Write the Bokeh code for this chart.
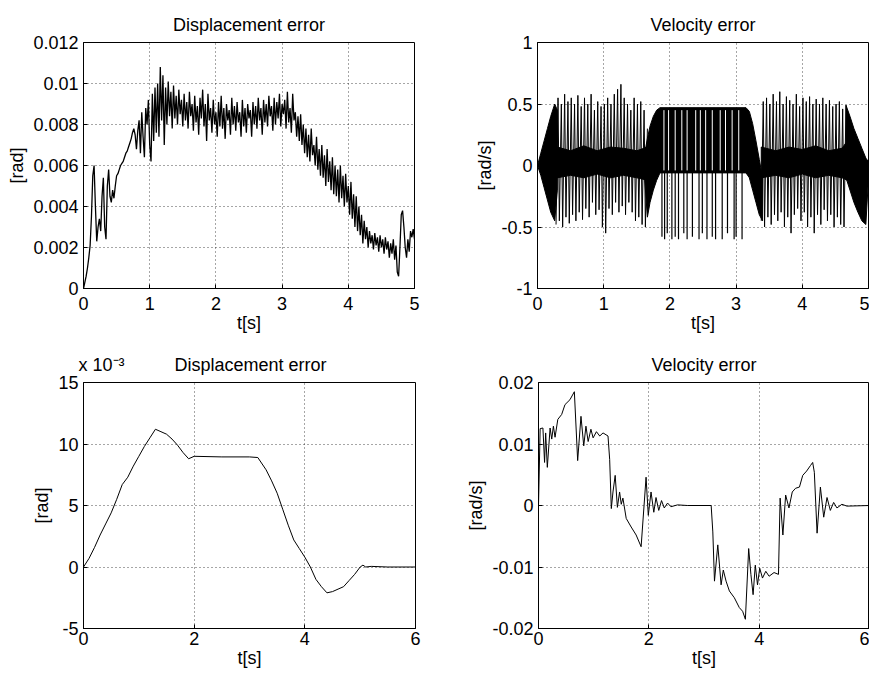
import numpy as np
from bokeh.plotting import figure
from bokeh.layouts import column, row
from bokeh.models import Range1d, FixedTicker
from bokeh.embed import file_html
from bokeh.resources import INLINE

FONT = "Liberation Sans"
FS = "18px"

# ---------------- data ----------------
# Top-left: displacement error [rad], sampled every 0.02 s from 0 to 5 s (values x1e-4)
disp1_dt = 0.02
disp1_e4 = [
    0, 3, 6, 10, 15, 21, 35, 55, 60, 40,
    23, 30, 34, 28, 45, 54, 30, 24, 50, 58,
    45, 42, 48, 44, 50, 55, 56, 58, 60, 61,
    62, 64, 66, 67, 69, 71, 73, 76, 78, 75,
    68, 77, 82, 66, 86, 74, 64, 88, 80, 92,
    70, 62, 95, 72, 98, 76, 100, 74, 108, 82,
    104, 70, 98, 80, 101, 84, 96, 78, 99, 83,
    94, 80, 97, 85, 92, 79, 95, 82, 91, 78,
    96, 84, 90, 77, 94, 81, 89, 75, 93, 83,
    97, 79, 90, 72, 95, 82, 88, 76, 92, 80,
    86, 74, 91, 79, 94, 78, 88, 73, 90, 82,
    87, 75, 93, 80, 89, 77, 91, 81, 86, 74,
    92, 79, 88, 76, 90, 83, 87, 74, 91, 80,
    89, 78, 93, 82, 88, 75, 92, 81, 90, 79,
    94, 84, 89, 77, 93, 80, 91, 83, 95, 79,
    90, 85, 92, 78, 96, 81, 88, 76, 95, 82,
    86, 74, 84, 72, 85, 70, 80, 66, 78, 64,
    75, 62, 78, 65, 70, 60, 74, 58, 68, 55,
    70, 54, 65, 50, 68, 52, 62, 48, 64, 46,
    60, 45, 58, 42, 60, 44, 55, 40, 56, 42,
    50, 36, 52, 34, 46, 30, 45, 28, 40, 26,
    36, 22, 33, 24, 30, 20, 28, 22, 26, 19,
    27, 21, 25, 18, 26, 20, 24, 17, 25, 19,
    23, 15, 22, 17, 24, 14, 21, 8, 6, 20,
    36, 38, 30, 20, 15, 24, 18, 28, 25, 29,
    24,
]

# Top-right: velocity error [rad/s]; dense chattering regions (upper/lower envelopes)
vel1_band_t = [
    [0.0, 0.05, 0.10, 0.15, 0.20, 0.26, 0.30],
    [0.30, 0.50, 0.70, 0.90, 1.10, 1.30, 1.50, 1.66],
    [1.62, 1.66, 1.70, 1.75, 1.80, 1.85, 3.15, 3.20, 3.25, 3.30, 3.35, 3.40],
    [3.38, 3.60, 3.80, 4.00, 4.20, 4.40, 4.60, 4.68],
    [4.66, 4.72, 4.78, 4.84, 4.90, 4.96, 5.00],
]
vel1_band_hi = [
    [0.0, 0.10, 0.20, 0.30, 0.40, 0.50, 0.45],
    [0.15, 0.12, 0.16, 0.12, 0.15, 0.14, 0.12, 0.15],
    [0.10, 0.22, 0.32, 0.40, 0.45, 0.47, 0.47, 0.44, 0.34, 0.20, 0.05, -0.10],
    [0.15, 0.12, 0.15, 0.13, 0.16, 0.12, 0.14, 0.20],
    [0.49, 0.40, 0.30, 0.22, 0.14, 0.06, 0.03],
]
vel1_band_lo = [
    [0.0, -0.08, -0.18, -0.28, -0.38, -0.45, -0.20],
    [-0.10, -0.08, -0.10, -0.07, -0.10, -0.08, -0.10, -0.12],
    [-0.12, -0.42, -0.30, -0.20, -0.12, -0.06, -0.06, -0.10, -0.20, -0.30, -0.40, -0.45],
    [-0.10, -0.08, -0.10, -0.07, -0.10, -0.08, -0.10, -0.12],
    [-0.10, -0.20, -0.30, -0.38, -0.45, -0.48, -0.10],
]
# spike trains (alternating tips)
vel1_a_t = [0.28, 0.31, 0.33, 0.36, 0.38, 0.41, 0.43, 0.46, 0.48, 0.51, 0.53, 0.56, 0.58, 0.61,
            0.63, 0.66, 0.68, 0.71, 0.73, 0.76, 0.78, 0.81, 0.83, 0.86, 0.88, 0.91, 0.93, 0.96,
            0.98, 1.01, 1.03, 1.06, 1.08, 1.11, 1.13, 1.16, 1.18, 1.21, 1.23, 1.26, 1.28, 1.31,
            1.33, 1.36, 1.38, 1.41, 1.43, 1.46, 1.48, 1.51, 1.53, 1.56, 1.58, 1.61, 1.63, 1.66]
vel1_a_v = [-0.48, 0.55, -0.45, 0.50, -0.50, 0.58, -0.42, 0.52, -0.47, 0.55, -0.40, 0.50, -0.45, 0.57,
            -0.38, 0.48, -0.44, 0.55, -0.35, 0.50, -0.42, 0.58, -0.30, 0.45, -0.40, 0.52, -0.36, 0.48,
            -0.50, 0.50, -0.55, 0.55, -0.35, 0.50, -0.40, 0.58, -0.30, 0.62, -0.38, 0.66, -0.33, 0.55,
            -0.40, 0.50, -0.30, 0.45, -0.38, 0.55, -0.45, 0.50, -0.42, 0.52, -0.48, 0.45, -0.50, 0.30]
vel1_c_t = [3.38, 3.41, 3.43, 3.46, 3.48, 3.51, 3.53, 3.56, 3.58, 3.61, 3.63, 3.66, 3.68, 3.71,
            3.73, 3.76, 3.78, 3.81, 3.83, 3.86, 3.88, 3.91, 3.93, 3.96, 3.98, 4.01, 4.03, 4.06,
            4.08, 4.11, 4.13, 4.16, 4.18, 4.21, 4.23, 4.26, 4.28, 4.31, 4.33, 4.36, 4.38, 4.41,
            4.43, 4.46, 4.48, 4.51, 4.53, 4.56, 4.58, 4.61, 4.63, 4.66]
vel1_c_v = [-0.45, 0.52, -0.50, 0.55, -0.42, 0.50, -0.48, 0.58, -0.40, 0.52, -0.45, 0.60, -0.38, 0.50,
            -0.50, 0.56, -0.42, 0.53, -0.55, 0.50, -0.40, 0.58, -0.35, 0.48, -0.45, 0.55, -0.38, 0.52,
            -0.50, 0.56, -0.42, 0.50, -0.55, 0.54, -0.40, 0.50, -0.48, 0.55, -0.36, 0.50, -0.45, 0.53,
            -0.40, 0.48, -0.50, 0.50, -0.42, 0.52, -0.48, 0.46, -0.50, 0.49]
vel1_plateau_base = -0.06
vel1_plateau_top = 0.47
vel1_plateau_spike_t = [1.88, 1.92, 1.96, 2.03, 2.08, 2.13, 2.21, 2.26, 2.34, 2.44,
                        2.49, 2.56, 2.64, 2.69, 2.79, 2.87, 2.97, 3.00, 3.09]
vel1_plateau_spike_lo = [-0.58, -0.60, -0.55, -0.60, -0.58, -0.60, -0.55, -0.60, -0.58, -0.60,
                         -0.55, -0.60, -0.58, -0.60, -0.60, -0.55, -0.60, -0.58, -0.60]
vel1_plateau_gap_t = [1.91, 1.98, 2.08, 2.18, 2.26, 2.39, 2.46, 2.54, 2.64, 2.76, 2.84, 2.94, 3.04]

# Bottom-left: displacement error (x1e-3 rad)
disp2_t = [0, 0.1, 0.2, 0.3, 0.4, 0.5, 0.6, 0.7, 0.8, 0.9, 1.0, 1.1, 1.2, 1.3, 1.4, 1.5, 1.6,
           1.7, 1.8, 1.9, 2.0, 2.5, 3.0, 3.15, 3.3, 3.4, 3.5, 3.6, 3.7, 3.8, 3.9, 4.0, 4.1,
           4.2, 4.3, 4.4, 4.5, 4.6, 4.7, 4.8, 4.9, 5.0, 5.05, 5.1, 5.2, 5.5, 6.0]
disp2_e3 = [0, 0.7, 1.6, 2.6, 3.5, 4.4, 5.5, 6.7, 7.3, 8.2, 9.0, 9.8, 10.5, 11.2, 11.0, 10.8, 10.4,
            9.9, 9.3, 8.8, 9.0, 8.95, 8.95, 8.9, 7.9, 7.0, 6.0, 4.7, 3.4, 2.2, 1.5, 0.8, 0.0,
            -1.0, -1.6, -2.1, -2.0, -1.8, -1.6, -1.1, -0.6, 0.0, 0.15, 0.0, 0.05, 0.0, 0.0]

# Bottom-right: velocity error [rad/s]
vel2_t = [0, 0.03, 0.08, 0.11, 0.13, 0.16, 0.21, 0.24, 0.27, 0.30, 0.35, 0.42, 0.48, 0.57, 0.65,
          0.71, 0.77, 0.82, 0.86, 0.90, 0.95, 0.99, 1.05, 1.11, 1.17, 1.26, 1.29, 1.32, 1.35,
          1.39, 1.43, 1.47, 1.50, 1.53, 1.59, 1.68, 1.77, 1.86, 1.95, 1.99, 2.04, 2.09, 2.13,
          2.18, 2.23, 2.28, 2.34, 2.40, 2.52, 2.70, 3.13, 3.16, 3.19, 3.25, 3.31, 3.35, 3.40,
          3.46, 3.55, 3.64, 3.70, 3.75, 3.81, 3.85, 3.89, 3.93, 3.97, 4.01, 4.06, 4.12, 4.18,
          4.27, 4.35, 4.38, 4.43, 4.48, 4.54, 4.60, 4.66, 4.73, 4.79, 4.86, 4.93, 4.97, 5.00,
          5.05, 5.11, 5.17, 5.23, 5.29, 5.35, 5.41, 5.50, 5.59, 6.0]
vel2_v = [0.0, 0.0125, 0.0126, 0.0070, 0.0118, 0.0062, 0.0126, 0.0108, 0.0129, 0.0111, 0.0140,
          0.0148, 0.0164, 0.0172, 0.0185, 0.0073, 0.0145, 0.0097, 0.0129, 0.0104, 0.0124, 0.0110,
          0.0120, 0.0113, 0.0118, 0.0113, 0.0075, -0.0005, 0.0022, 0.0049, -0.0003, 0.0022,
          0.0002, 0.0012, -0.0021, -0.0035, -0.0048, -0.0067, 0.0046, -0.0016, 0.0022, -0.0011,
          0.0013, -0.0008, 0.0008, -0.0004, 0.0004, -0.0002, 0.0001, 0.0, 0.0, -0.0043, -0.0123,
          -0.0064, -0.0129, -0.0105, -0.0123, -0.0139, -0.0150, -0.0166, -0.0172, -0.0185,
          -0.0070, -0.0112, -0.0145, -0.0097, -0.0129, -0.0102, -0.0118, -0.0107, -0.0115,
          -0.0109, -0.0112, 0.0012, -0.0048, 0.0017, -0.0004, 0.0022, 0.0028, 0.0030, 0.0049,
          0.0056, 0.0065, 0.0070, 0.0054, -0.0045, 0.0030, -0.0019, 0.0013, -0.0008, 0.0005,
          -0.0004, 0.0002, -0.0001, 0.0]

# ticks and texts
tl_xticks = [0, 1, 2, 3, 4, 5]
tl_yticks = [0, 0.002, 0.004, 0.006, 0.008, 0.01, 0.012]
tl_ylabels = ["0", "0.002", "0.004", "0.006", "0.008", "0.01", "0.012"]
tr_yticks = [-1, -0.5, 0, 0.5, 1]
tr_ylabels = ["-1", "-0.5", "0", "0.5", "1"]
bl_xticks = [0, 2, 4, 6]
bl_yticks = [-5, 0, 5, 10, 15]
bl_ylabels = ["-5", "0", "5", "10", "15"]
br_yticks = [-0.02, -0.01, 0, 0.01, 0.02]
br_ylabels = ["-0.02", "-0.01", "0", "0.01", "0.02"]
bl_scale_text = "x 10\u207b\u00b3"
NBSP = "\u00a0"


def make_fig(w, h, bl, br, bt, bb, xr, yr, title, ylabel, xticks, yticks, ylabels,
             xstand, xlstand):
    p = figure(width=w, height=h, output_backend="svg", toolbar_location=None,
               x_range=Range1d(*xr), y_range=Range1d(*yr),
               min_border_left=bl, min_border_right=br,
               min_border_top=bt, min_border_bottom=bb,
               background_fill_color="white", border_fill_color="white")
    p.title.text = title
    p.title.align = "center"
    p.title.text_font = FONT
    p.title.text_font_size = FS
    p.title.text_font_style = "normal"
    p.title.text_color = "black"
    p.title.standoff = 15
    p.outline_line_color = "black"
    p.outline_line_width = 1
    p.outline_line_alpha = 1
    for ax in (p.xaxis[0], p.yaxis[0]):
        ax.major_label_text_font = FONT
        ax.major_label_text_font_size = FS
        ax.major_label_text_color = "black"
        ax.axis_label_text_font = FONT
        ax.axis_label_text_font_size = FS
        ax.axis_label_text_font_style = "normal"
        ax.axis_label_text_color = "black"
        ax.major_tick_in = 4
        ax.major_tick_out = 0
        ax.minor_tick_line_color = None
        ax.axis_line_color = "black"
        ax.major_tick_line_color = "black"
        ax.axis_label_standoff = 3
        ax.major_label_standoff = 5
    p.xaxis.major_label_standoff = xstand
    p.xaxis.axis_label_standoff = xlstand
    p.xaxis.ticker = FixedTicker(ticks=xticks)
    p.xaxis.major_label_overrides = {t: str(t) for t in xticks}
    p.yaxis.ticker = FixedTicker(ticks=yticks)
    p.yaxis.major_label_overrides = dict(zip(yticks, ylabels))
    p.xaxis.axis_label = "t[s]"
    p.yaxis.axis_label = ylabel
    for g in (p.xgrid[0], p.ygrid[0]):
        g.grid_line_color = "#222222"
        g.grid_line_alpha = 0.8
        g.grid_line_dash = "1 3"
        g.grid_line_width = 1
    return p


# Top-left
p1 = make_fig(434, 340, 83, 20, 42, 50, (0, 5), (0, 0.012), "Displacement error", "[rad]",
              tl_xticks, tl_yticks, tl_ylabels, 8, 0)
t1 = [round(i * disp1_dt, 3) for i in range(len(disp1_e4))]
v1 = [v * 1e-4 for v in disp1_e4]
p1.line(t1, v1, line_color="black", line_width=1.3)

# Top-right
p2 = make_fig(435, 340, 103, 1, 40, 52, (0, 5), (-1, 1), "Velocity error", "[rad/s]",
              tl_xticks, tr_yticks, tr_ylabels, 8, 0)
xs = [t + t[::-1] for t in vel1_band_t]
ys = [hi + lo[::-1] for hi, lo in zip(vel1_band_hi, vel1_band_lo)]
p2.patches(xs, ys, fill_color="black", line_color="black", line_width=1)
p2.segment(x0=vel1_plateau_spike_t, y0=vel1_plateau_base, x1=vel1_plateau_spike_t,
           y1=vel1_plateau_spike_lo, line_color="black", line_width=1.2)
p2.segment(x0=vel1_plateau_gap_t, y0=vel1_plateau_base + 0.02, x1=vel1_plateau_gap_t,
           y1=vel1_plateau_top - 0.02, line_color="white", line_width=1)
p2.line(vel1_a_t, vel1_a_v, line_color="black", line_width=1)
p2.line(vel1_c_t, vel1_c_v, line_color="black", line_width=1)

# Bottom-left (scale note shares the title line)
p3 = make_fig(434, 334, 83, 19, 42, 45, (0, 6), (-5, 15),
              bl_scale_text + NBSP * 10 + "Displacement error", "[rad]",
              bl_xticks, bl_yticks, bl_ylabels, 3, 0)
p3.title.align = "left"
p3.title.offset = -5
p3.line(disp2_t, disp2_e3, line_color="black", line_width=1)

# Bottom-right
p4 = make_fig(435, 334, 104, 0, 39, 46, (0, 6), (-0.02, 0.02), "Velocity error", "[rad/s]",
              bl_xticks, br_yticks, br_ylabels, 3, 0)
p4.line(vel2_t, vel2_v, line_color="black", line_width=1)

layout = column(row(p1, p2), row(p3, p4))
open("out.html", "w").write(file_html(layout, INLINE))
